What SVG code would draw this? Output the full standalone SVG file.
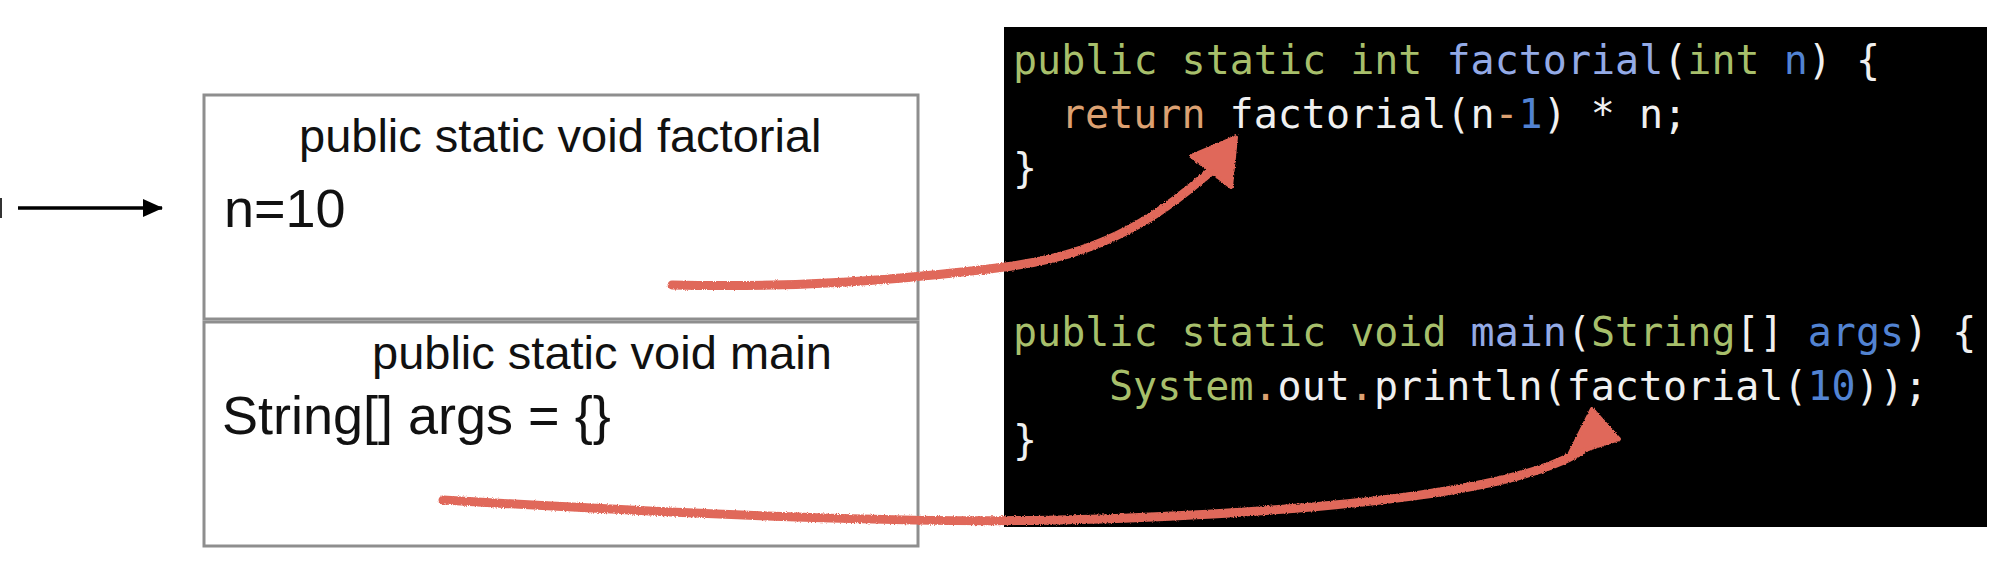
<svg xmlns="http://www.w3.org/2000/svg" width="2010" height="562" viewBox="0 0 2010 562">
<style>
.box{fill:#fff;stroke:#8e8e8e;stroke-width:3}
.t{font-family:"Liberation Sans",Arial,sans-serif;fill:#111}
.title{font-size:47px}
.var{font-size:54px}
.code{font-family:"DejaVu Sans Mono","Liberation Mono",monospace;font-size:40px;white-space:pre;fill:#f0f0f0}
.g{fill:#a7bf6b}.f{fill:#93aae6}.b{fill:#5283d2}.o{fill:#dca172}.w{fill:#f0f0f0}
.red{fill:none;stroke:#e0685a;stroke-width:9;stroke-linecap:round}
.redhead{fill:#e0685a;stroke:#e0685a;stroke-width:4;stroke-linejoin:round}
</style>
<defs>
<filter id="rough" x="-5%" y="-20%" width="110%" height="140%">
<feTurbulence type="fractalNoise" baseFrequency="0.9" numOctaves="2" seed="3" result="n"/>
<feDisplacementMap in="SourceGraphic" in2="n" scale="3" xChannelSelector="R" yChannelSelector="G"/>
</filter>
<marker id="ah" markerWidth="20" markerHeight="18" refX="19" refY="9" orient="auto" markerUnits="userSpaceOnUse"><path d="M0,0 L20,9 L0,18 z" fill="#000"/></marker>
</defs>
<rect width="2010" height="562" fill="#fff"/>
<rect x="0" y="198" width="2" height="20" fill="#333"/>

<g id="code-panel">
<rect x="1004" y="27" width="983" height="500" fill="#000"/>
<text class="code" x="1013" y="74"><tspan class="g">public static int </tspan><tspan class="f">factorial</tspan><tspan class="w">(</tspan><tspan class="g">int</tspan> <tspan class="b">n</tspan><tspan class="w">) {</tspan></text>
<text class="code" x="1061" y="128"><tspan class="o">return</tspan><tspan class="w"> factorial(n</tspan><tspan class="o">-</tspan><tspan class="b">1</tspan><tspan class="w">) * n;</tspan></text>
<text class="code" x="1013" y="182">}</text>
<text class="code" x="1013" y="346"><tspan class="g">public static void </tspan><tspan class="f">main</tspan><tspan class="w">(</tspan><tspan class="g">String</tspan><tspan class="w">[]</tspan> <tspan class="b">args</tspan><tspan class="w">) {</tspan></text>
<text class="code" x="1109" y="400"><tspan class="g">System</tspan><tspan class="o">.</tspan><tspan class="w">out</tspan><tspan class="o">.</tspan><tspan class="w">println(factorial(</tspan><tspan class="b">10</tspan><tspan class="w">));</tspan></text>
<text class="code" x="1013" y="454">}</text>
</g>

<g id="frame-factorial">
<rect class="box" x="204" y="95" width="714" height="224"/>
<text class="t title" x="299" y="152">public static void factorial</text>
<text class="t var" x="224" y="227">n=10</text>
</g>

<g id="frame-main">
<rect class="box" x="204" y="322" width="714" height="224"/>
<text class="t title" x="372" y="369">public static void main</text>
<text class="t var" x="222" y="434">String[] args = {}</text>
</g>

<g id="connectors">
<line x1="18" y1="208" x2="162" y2="208" stroke="#000" stroke-width="3.5" marker-end="url(#ah)"/>
<g filter="url(#rough)">
<path class="red" d="M672,285 C800,288 900,280 1005,267 S1165,210 1210,172"/>
<polygon class="redhead" points="1236,137 1191,156 1231,187"/>
<path class="red" d="M443,500 C750,518 950,524 1100,519 C1350,510 1530,490 1588,446"/>
<polygon class="redhead" points="1592,409 1569,455 1619,439"/>
</g>
</g>
</svg>
